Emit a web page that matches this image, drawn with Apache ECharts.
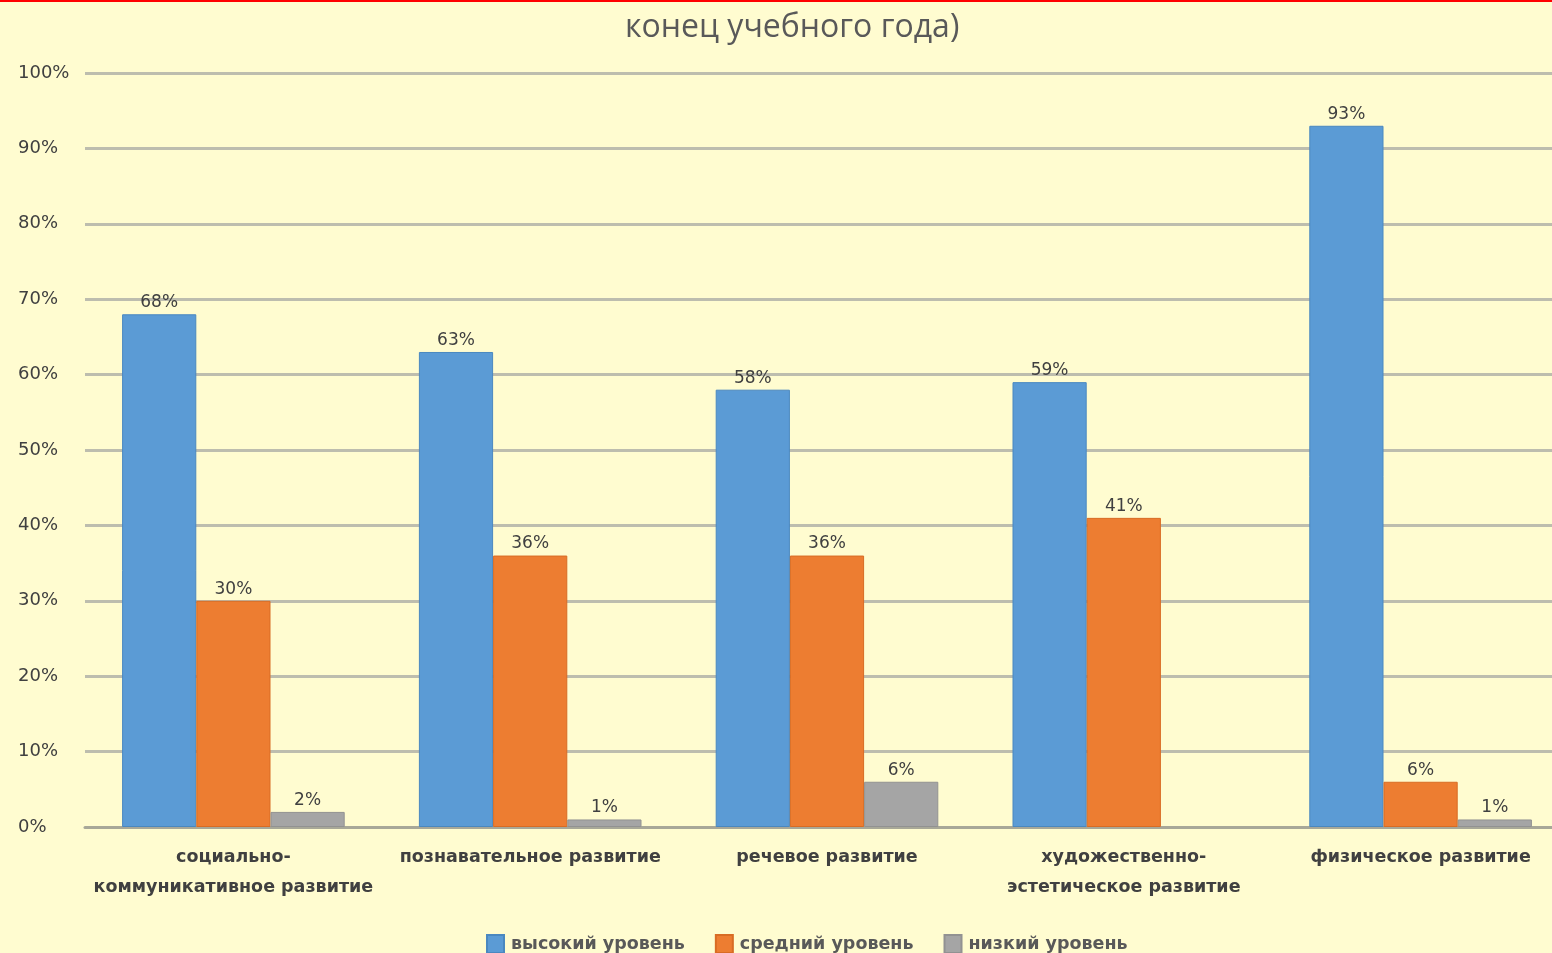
<!DOCTYPE html>
<html><head><meta charset="utf-8">
<script src="https://cdn.jsdelivr.net/npm/echarts@6/dist/echarts.min.js"></script>
<style>html,body{margin:0;padding:0;background:#FFFCD0;}#c{width:1552px;height:953px;}</style>
</head><body><div id="c"></div>
<script>
const categories = ['социально-\nкоммуникативное развитие','познавательное развитие','речевое развитие','художественно-\nэстетическое развитие','физическое развитие'];
const seriesNames = ['высокий уровень','средний уровень','низкий уровень'];
const high = [68,63,58,59,93];
const mid = [30,36,36,41,6];
const low = [2,1,6,null,1];
const yTicks = [0,10,20,30,40,50,60,70,80,90,100];
const colors = ['#5B9BD5','#ED7D31','#A5A5A5'];
const borders = ['#4A88C0','#D86C24','#929292'];
const chart = echarts.init(document.getElementById('c'));
const lbl = {show:true,position:'top',distance:3,formatter:p=>p.value==null?'':p.value+'%',color:'#404040',fontSize:17,fontFamily:'DejaVu Sans'};
chart.setOption({
  backgroundColor:'#FFFCD0',
  color:colors,
  title:{text:'конец учебного года)',left:620,top:7,textStyle:{color:'#595959',fontSize:32,fontWeight:'normal',fontFamily:'Open Sans, Noto Sans'}},
  graphic:[{type:'rect',shape:{x:0,y:0,width:1552,height:2},style:{fill:'#FF0000'}}],
  legend:{top:929,left:481,itemWidth:17,itemHeight:18,itemGap:30,icon:'rect',textStyle:{color:'#595959',fontSize:17.5,fontWeight:'bold',fontFamily:'DejaVu Sans',padding:[0,0,0,2]},data:seriesNames},
  grid:{left:85,width:1484,top:73,bottom:126,outerBoundsMode:'none'},
  xAxis:{type:'category',data:categories,axisLine:{lineStyle:{color:'#A8A898',width:3}},axisTick:{show:false},
    axisLabel:{color:'#404040',fontSize:17.5,fontWeight:'bold',lineHeight:30,margin:15,interval:0,fontFamily:'DejaVu Sans'}},
  yAxis:{type:'value',min:0,max:100,interval:10,
    axisLabel:{formatter:v=>yTicks.includes(v)?v+'%':'',color:'#404040',fontSize:18,align:'left',margin:67,fontFamily:'DejaVu Sans'},
    splitLine:{lineStyle:{color:'#BDBDAE',width:3}},axisLine:{show:false},axisTick:{show:false}},
  series:[
    {name:seriesNames[0],type:'bar',data:high,barGap:'0%',barCategoryGap:'25%',itemStyle:{color:colors[0],borderColor:borders[0],borderWidth:1},label:lbl},
    {name:seriesNames[1],type:'bar',data:mid,itemStyle:{color:colors[1],borderColor:borders[1],borderWidth:1},label:lbl},
    {name:seriesNames[2],type:'bar',data:low,itemStyle:{color:colors[2],borderColor:borders[2],borderWidth:1},label:lbl}
  ]
});
</script></body></html>
